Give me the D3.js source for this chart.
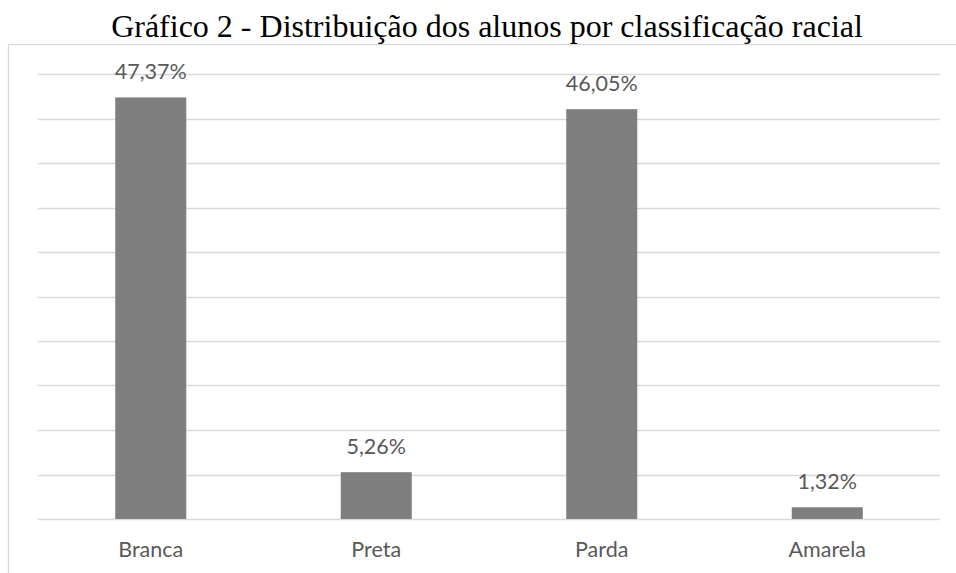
<!DOCTYPE html>
<html>
<head>
<meta charset="utf-8">
<script src="https://cdn.jsdelivr.net/npm/d3@7"></script>
<style>
  body { margin: 0; background: #fff; }
  svg { display: block; }
</style>
</head>
<body>
<div id="chart"></div>
<script>
// data
var categories = ["Branca", "Preta", "Parda", "Amarela"];
var values = [47.37, 5.26, 46.05, 1.32];
var gridTicks = [0, 5, 10, 15, 20, 25, 30, 35, 40, 45, 50];
var title = "Gráfico 2 - Distribuição dos alunos por classificação racial";

var W = 956, H = 573;
var plot = {left: 38, right: 940, top: 74, bottom: 519};

var svg = d3.select("#chart").append("svg")
  .attr("width", W)
  .attr("height", H);

// chart frame (runs off the right and bottom edges)
svg.append("rect")
  .attr("x", 8.5).attr("y", 44.5)
  .attr("width", W + 20).attr("height", H)
  .style("fill", "none").style("stroke", "#d9d9d9").style("stroke-width", 1.3);

svg.append("text")
  .attr("x", 487).attr("y", 37)
  .attr("text-anchor", "middle")
  .style("font-family", "'Liberation Serif', 'Times New Roman', serif")
  .style("font-size", "32px")
  .style("fill", "#000")
  .text(title);

var x = d3.scaleBand()
  .domain(categories)
  .range([plot.left, plot.right])
  .paddingInner(0.685)
  .paddingOuter(0.3425);

var y = d3.scaleLinear()
  .domain([0, 50])
  .range([plot.bottom, plot.top]);

// gridlines
svg.append("g").selectAll("line")
  .data(gridTicks)
  .enter().append("line")
  .attr("x1", plot.left).attr("x2", plot.right)
  .attr("y1", function(d){ return Math.round(y(d)) + 0.5; })
  .attr("y2", function(d){ return Math.round(y(d)) + 0.5; })
  .style("stroke", "#d9d9d9").style("stroke-width", 1.5);

var data = categories.map(function(c, i){ return {cat: c, val: values[i]}; });

svg.append("g").selectAll("rect")
  .data(data)
  .enter().append("rect")
  .attr("x", function(d){ return x(d.cat); })
  .attr("width", x.bandwidth())
  .attr("y", function(d){ return y(d.val); })
  .attr("height", function(d){ return y(0) - y(d.val); })
  .style("fill", "#7f7f7f");

var labelFont = "Lato, 'Open Sans', sans-serif";

svg.append("g").selectAll("text")
  .data(data)
  .enter().append("text")
  .attr("x", function(d){ return x(d.cat) + x.bandwidth()/2; })
  .attr("y", function(d){ return y(d.val) - 18; })
  .attr("text-anchor", "middle")
  .style("font-family", labelFont)
  .style("font-size", "21.5px")
  .style("fill", "#595959")
  .text(function(d){ return d.val.toFixed(2).replace(".", ",") + "%"; });

svg.append("g").selectAll("text")
  .data(categories)
  .enter().append("text")
  .attr("x", function(d){ return x(d) + x.bandwidth()/2; })
  .attr("y", 557)
  .attr("text-anchor", "middle")
  .style("font-family", labelFont)
  .style("font-size", "21.5px")
  .style("fill", "#595959")
  .text(function(d){ return d; });
</script>
</body>
</html>
